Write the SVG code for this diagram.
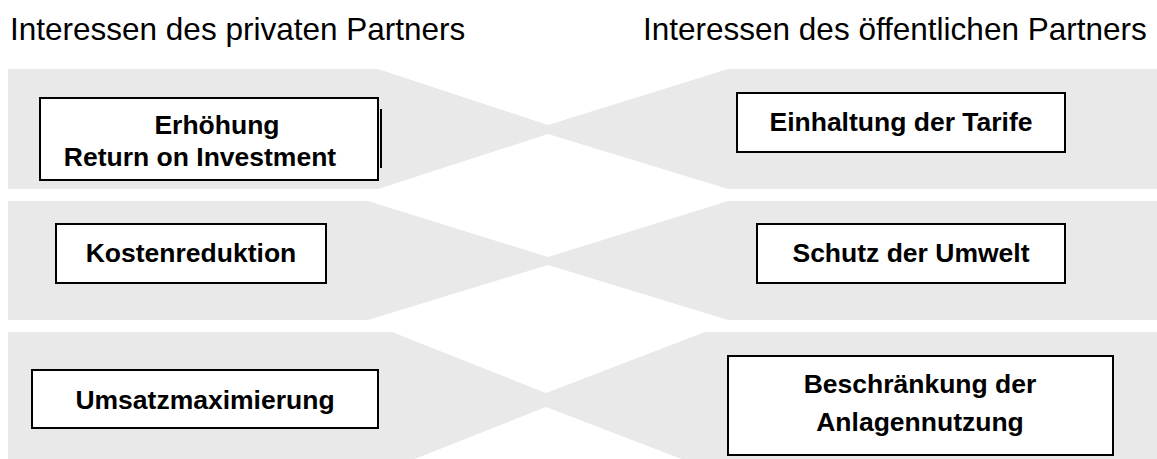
<svg xmlns="http://www.w3.org/2000/svg" width="1157" height="459" viewBox="0 0 1157 459">
<style>
.band{fill:#e9e9e9;stroke:none}
.box{fill:#fff;stroke:#000;stroke-width:2}
.lbl{font-family:"Liberation Sans",Arial,sans-serif;font-weight:bold;font-size:26.5px;fill:#000;text-anchor:middle}
.title{font-family:"Liberation Sans",Arial,sans-serif;font-size:31.5px;fill:#000}
</style>
<rect width="1157" height="459" fill="#fff"/>
<g id="connectors">
<polygon class="band" points="8,69 378,69 548,125 728,69 1157,69 1157,189 728,189 548,134 378,189 8,189"/>
<polygon class="band" points="8,201 368,201 548,257 728,201 1157,201 1157,320 728,320 548,265 368,320 8,320"/>
<polygon class="band" points="8,332 392,332 546,393 705,332 1157,332 1157,468 705,468 546,407 392,468 8,468"/>
</g>
<g id="titles">
<text class="title" x="10" y="40">Interessen des privaten Partners</text>
<text class="title" x="643" y="40">Interessen des öffentlichen Partners</text>
</g>
<g id="n1">
<rect class="box" x="40" y="98" width="338" height="82"/>
<line x1="381" y1="109" x2="381" y2="168" stroke="#000" stroke-width="2"/>
<text class="lbl" x="217" y="134">Erhöhung</text>
<text class="lbl" x="200" y="166">Return on Investment</text>
</g>
<g id="n2">
<rect class="box" x="737" y="93" width="328" height="59"/>
<text class="lbl" x="901" y="131">Einhaltung der Tarife</text>
</g>
<g id="n3">
<rect class="box" x="56" y="224" width="270" height="59"/>
<text class="lbl" x="191" y="262">Kostenreduktion</text>
</g>
<g id="n4">
<rect class="box" x="757" y="224" width="308" height="59"/>
<text class="lbl" x="911" y="262">Schutz der Umwelt</text>
</g>
<g id="n5">
<rect class="box" x="32" y="370" width="346" height="58"/>
<text class="lbl" x="205" y="409">Umsatzmaximierung</text>
</g>
<g id="n6">
<rect class="box" x="728" y="356" width="385" height="99"/>
<text class="lbl" x="920" y="393">Beschränkung der</text>
<text class="lbl" x="920" y="431">Anlagennutzung</text>
</g>
</svg>
